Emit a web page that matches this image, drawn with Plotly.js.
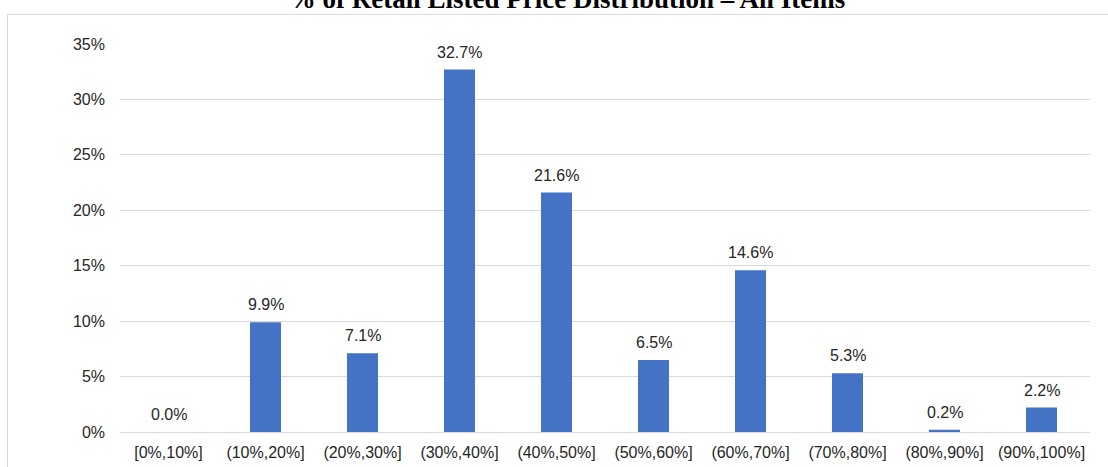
<!DOCTYPE html>
<html>
<head>
<meta charset="utf-8">
<script src="https://cdn.plot.ly/plotly-3.0.1.min.js"></script>
<style>
  html, body { margin: 0; padding: 0; background: #ffffff; overflow: hidden; }
  #chart { width: 1108px; height: 467px; }
</style>
</head>
<body>
<div id="chart"></div>
<script>
// Share of items by retail listed price bucket
const priceBuckets = ["[0%,10%]", "(10%,20%]", "(20%,30%]", "(30%,40%]", "(40%,50%]",
                      "(50%,60%]", "(60%,70%]", "(70%,80%]", "(80%,90%]", "(90%,100%]"];
const shareOfItems = [0.0, 9.9, 7.1, 32.7, 21.6, 6.5, 14.6, 5.3, 0.2, 2.2];
const yTickValues = [0, 5, 10, 15, 20, 25, 30, 35];
const yTickLabels = ["0%", "5%", "10%", "15%", "20%", "25%", "30%", "35%"];
const chartTitle = "% of Retail Listed Price Distribution – All Items";

const W = 1108, H = 467;
const margin = { l: 120, r: 18, t: 44, b: 35 };
const plotW = W - margin.l - margin.r;
const plotH = H - margin.t - margin.b;
const sans = "Liberation Sans, Arial, sans-serif";
const ink = "#262626";

// paper coordinates of the outer chart-area frame
const px = x => (x - margin.l) / plotW;
const py = y => (H - margin.b - y) / plotH;

const trace = {
  type: "bar",
  x: priceBuckets,
  y: shareOfItems,
  marker: { color: "#4472C4" },
  hoverinfo: "x+y"
};

// value labels sit just above each bar
const valueLabels = priceBuckets.map((b, i) => ({
  x: b,
  y: shareOfItems[i],
  xref: "x",
  yref: "y",
  text: shareOfItems[i].toFixed(1) + "%",
  showarrow: false,
  yanchor: "bottom",
  yshift: 7,
  font: { family: sans, size: 16, color: ink }
}));

const layout = {
  width: W,
  height: H,
  margin: margin,
  paper_bgcolor: "#ffffff",
  plot_bgcolor: "#ffffff",
  bargap: 0.68,
  showlegend: false,
  font: { family: sans, size: 16, color: ink },
  title: {
    text: "<b>" + chartTitle + "</b>",
    font: { family: "Liberation Serif, Times New Roman, serif", size: 27, color: "#000000" },
    x: 567 / W,
    xanchor: "center",
    xref: "container",
    yref: "container",
    y: 1 - 8 / H,
    yanchor: "bottom",
    pad: { t: 0, b: 0 }
  },
  xaxis: {
    type: "category",
    showgrid: false,
    showline: false,
    zeroline: false,
    ticks: "",
    ticklabelstandoff: 9,
    tickfont: { family: sans, size: 16, color: ink },
    fixedrange: true
  },
  yaxis: {
    range: [0, 35],
    tickvals: yTickValues,
    ticktext: yTickLabels,
    showgrid: true,
    gridcolor: "#D9D9D9",
    gridwidth: 1,
    zeroline: true,
    zerolinecolor: "#D9D9D9",
    zerolinewidth: 1,
    showline: false,
    ticks: "",
    ticklabelstandoff: 14,
    tickfont: { family: sans, size: 16, color: ink },
    fixedrange: true
  },
  annotations: valueLabels,
  shapes: [{
    type: "rect",
    xref: "paper", yref: "paper",
    x0: px(7.5), x1: px(W + 20),
    y0: py(H + 20), y1: py(14.5),
    line: { color: "#D9D9D9", width: 1 },
    fillcolor: "rgba(0,0,0,0)",
    layer: "below"
  }]
};

Plotly.newPlot("chart", [trace], layout, { displayModeBar: false, staticPlot: true });
</script>
</body>
</html>
